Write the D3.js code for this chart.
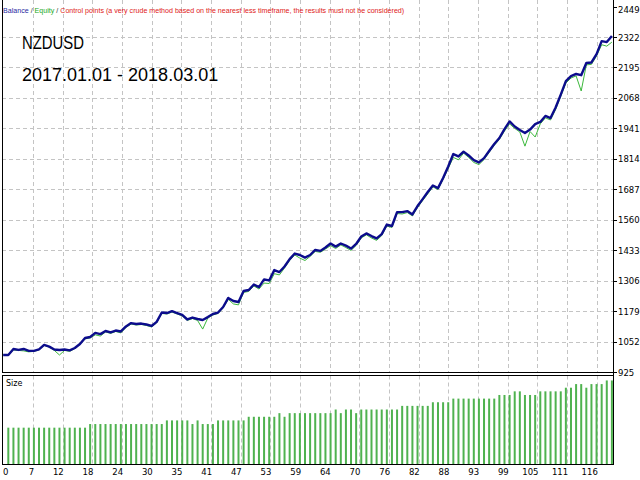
<!DOCTYPE html>
<html><head><meta charset="utf-8">
<script src="https://cdn.jsdelivr.net/npm/d3@7"></script>
<style>body{margin:0;background:#fff}svg{display:block}</style>
</head><body>
<svg id="c" width="640" height="480"></svg>
<script>
// ---- data ----
const balance = [996,996,1021,1017,1021,1013,1013,1019,1038,1031,
1019,1017,1019,1015,1025,1042,1067,1071,1088,1083,
1096,1090,1098,1094,1115,1129,1125,1127,1123,1117,
1134,1173,1171,1179,1171,1163,1144,1152,1146,1142,
1154,1167,1173,1196,1234,1221,1217,1263,1267,1290,
1279,1311,1307,1350,1342,1365,1396,1419,1413,1402,
1413,1434,1430,1444,1461,1448,1461,1452,1440,1459,
1490,1503,1492,1482,1500,1540,1534,1592,1592,1596,
1582,1617,1646,1676,1703,1692,1734,1782,1834,1824,
1844,1828,1809,1799,1817,1847,1876,1901,1938,1970,
1949,1934,1922,1936,1959,1968,1993,1984,2028,2082,
2138,2159,2168,2163,2214,2216,2251,2305,2301,2326];
const equity = [996,996,1017,1015,1013,1009,1011,1017,1036,1029,
1015,996,1015,1011,1023,1040,1063,1067,1080,1075,
1092,1086,1094,1088,1111,1125,1121,1123,1119,1113,
1130,1169,1167,1175,1167,1159,1140,1148,1140,1104,
1150,1163,1169,1192,1228,1209,1205,1257,1261,1284,
1271,1296,1294,1335,1330,1359,1390,1413,1400,1390,
1407,1428,1424,1438,1452,1440,1455,1444,1432,1453,
1484,1497,1484,1474,1494,1534,1528,1586,1584,1590,
1576,1611,1640,1668,1697,1686,1728,1774,1820,1810,
1838,1820,1799,1790,1811,1841,1870,1895,1930,1960,
1941,1926,1867,1928,1905,1960,1985,1976,2020,2074,
2130,2151,2160,2097,2206,2208,2243,2290,2284,2301];
// lot size of trades 1..119
const sizes = [0.10,0.10,0.10,0.10,0.10,0.10,0.10,0.10,0.10,0.10,
0.10,0.10,0.10,0.10,0.10,0.10,0.11,0.11,0.11,0.11,
0.11,0.11,0.11,0.11,0.11,0.11,0.11,0.11,0.11,0.11,
0.11,0.12,0.12,0.12,0.12,0.12,0.11,0.12,0.11,0.11,
0.11,0.12,0.12,0.12,0.12,0.12,0.12,0.13,0.13,0.13,
0.13,0.13,0.13,0.14,0.13,0.14,0.14,0.14,0.14,0.14,
0.14,0.14,0.14,0.14,0.15,0.14,0.15,0.15,0.14,0.15,
0.15,0.15,0.15,0.15,0.15,0.15,0.15,0.16,0.16,0.16,
0.16,0.16,0.16,0.17,0.17,0.17,0.17,0.18,0.18,0.18,
0.18,0.18,0.18,0.18,0.18,0.18,0.19,0.19,0.19,0.20,
0.20,0.19,0.19,0.19,0.20,0.20,0.20,0.20,0.20,0.21,
0.21,0.22,0.22,0.21,0.22,0.22,0.22,0.23,0.23];
const yTicks = [925,1052,1179,1306,1433,1560,1687,1814,1941,2068,2195,2322,2449];
const xTickLabels = [0,7,12,18,24,30,35,41,47,53,59,64,70,76,82,88,93,99,105,111,116];
const title = "NZDUSD";
const period = "2017.01.01 - 2018.03.01";
const legendParts = [
  {t:"Balance", c:"#1f1f9f"},
  {t:" / ", c:"#333333"},
  {t:"Equity", c:"#22aa22"},
  {t:" / ", c:"#333333"},
  {t:"Control points (a very crude method based on the nearest less timeframe, the results must not be considered)", c:"#e02020"}
];

// ---- layout ----
const svg = d3.select("#c");
const frameL = 2, frameR = 613, mainTop = 0, mainBot = 372.5, sizeTop = 375.5, sizeBot = 464.5;
const x = d3.scaleLinear().domain([0, balance.length - 1]).range([3.2, 611.9]);
const y = d3.scaleLinear().domain([925, 2449]).range([372, 6.6]);
const ys = d3.scaleLinear().domain([0, 0.245]).range([464, 375]);
const gx = d3.scaleLinear().domain([0, xTickLabels.length - 1]).range([3.4, 596.8]);
const font = "DejaVu Sans, Verdana, sans-serif";
const gridColor = "#c4c4c4";

// vertical grid
const gk = d3.range(1, xTickLabels.length);
svg.append("g").selectAll("line").data(gk).join("line")
  .attr("x1", k => Math.round(gx(k)) + 0.5).attr("x2", k => Math.round(gx(k)) + 0.5)
  .attr("y1", mainTop).attr("y2", mainBot)
  .attr("stroke", gridColor).attr("stroke-dasharray", "4,3");
svg.append("g").selectAll("line").data(gk).join("line")
  .attr("x1", k => Math.round(gx(k)) + 0.5).attr("x2", k => Math.round(gx(k)) + 0.5)
  .attr("y1", sizeTop).attr("y2", sizeBot)
  .attr("stroke", gridColor).attr("stroke-dasharray", "4,3");
// horizontal grid
svg.append("g").selectAll("line").data(yTicks.slice(1, -1)).join("line")
  .attr("x1", frameL).attr("x2", frameR)
  .attr("y1", d => Math.round(y(d)) + 0.5).attr("y2", d => Math.round(y(d)) + 0.5)
  .attr("stroke", gridColor).attr("stroke-dasharray", "4,3");

// size bars
svg.append("g").selectAll("rect").data(sizes).join("rect")
  .attr("x", (d, i) => x(i + 1) - 1).attr("width", 2)
  .attr("y", d => ys(d)).attr("height", d => ys(0) - ys(d))
  .attr("fill", "#4fb24f");

// lines
const line = d3.line().x((d, i) => x(i)).y(d => y(d));
svg.append("path").datum(equity).attr("d", line)
  .attr("fill", "none").attr("stroke", "#3cb83c").attr("stroke-width", 1);
svg.append("path").datum(balance).attr("d", line)
  .attr("fill", "none").attr("stroke", "#0c0c8c").attr("stroke-width", 2.4)
  .attr("stroke-linejoin", "round");

// frames
const fr = svg.append("g").attr("stroke", "#000").attr("stroke-width", 1).attr("fill", "none");
fr.append("line").attr("x1", frameL + 0.5).attr("x2", frameL + 0.5).attr("y1", mainTop).attr("y2", mainBot);
fr.append("line").attr("x1", frameR + 0.5).attr("x2", frameR + 0.5).attr("y1", mainTop).attr("y2", sizeBot);
fr.append("line").attr("x1", frameL).attr("x2", frameR + 1).attr("y1", mainBot).attr("y2", mainBot);
fr.append("rect").attr("x", frameL + 0.5).attr("y", sizeTop).attr("width", frameR - frameL).attr("height", sizeBot - sizeTop);

// right axis
const ra = svg.append("g").attr("font-family", font).attr("font-size", 8.5).attr("fill", "#000");
ra.selectAll("line").data(yTicks).join("line")
  .attr("x1", frameR + 1).attr("x2", frameR + 4)
  .attr("y1", d => Math.round(y(d)) + 0.5).attr("y2", d => Math.round(y(d)) + 0.5)
  .attr("stroke", "#000");
ra.selectAll("text").data(yTicks).join("text")
  .attr("x", 618).attr("y", d => Math.max(y(d) + 0.5, 9.5))
  .attr("dominant-baseline", "central").text(d => d);

// bottom labels
svg.append("g").attr("font-family", font).attr("font-size", 8.5).attr("fill", "#000")
  .selectAll("text").data(xTickLabels).join("text")
  .attr("x", (d, k) => k === 0 ? 3 : gx(k) + 1)
  .attr("text-anchor", (d, k) => k === 0 ? "start" : "end")
  .attr("y", 474.5).text(d => d);

// Size label
svg.append("text").attr("x", 6).attr("y", 386).attr("font-family", font)
  .attr("font-size", 8).attr("fill", "#000").text("Size");

// legend: separate pieces, horizontally condensed to the reference width
const lgf = "Liberation Sans, Arial, sans-serif";
const lgG = svg.append("g");
const pieces = lgG.selectAll("text").data(legendParts).join("text")
  .attr("font-family", lgf).attr("font-size", 8).attr("fill", d => d.c)
  .attr("xml:space", "preserve").style("white-space", "pre").text(d => d.t);
const widths = pieces.nodes().map(n => n.getComputedTextLength());
const total = d3.sum(widths);
const f = 402 / total;
let cx = 3;
pieces.each(function(d, i) {
  d3.select(this).attr("transform", `translate(${cx},13) scale(${f},1)`);
  cx += widths[i] * f;
});

// title
const tf = "Liberation Sans, Arial, sans-serif";
svg.append("text").attr("x", 22).attr("y", 48.5).attr("font-family", tf).attr("font-size", 18)
  .attr("fill", "#000").attr("textLength", 62).attr("lengthAdjust", "spacingAndGlyphs").text(title);
svg.append("text").attr("x", 22).attr("y", 80.5).attr("font-family", tf).attr("font-size", 18)
  .attr("fill", "#000").text(period);
</script>
</body></html>
